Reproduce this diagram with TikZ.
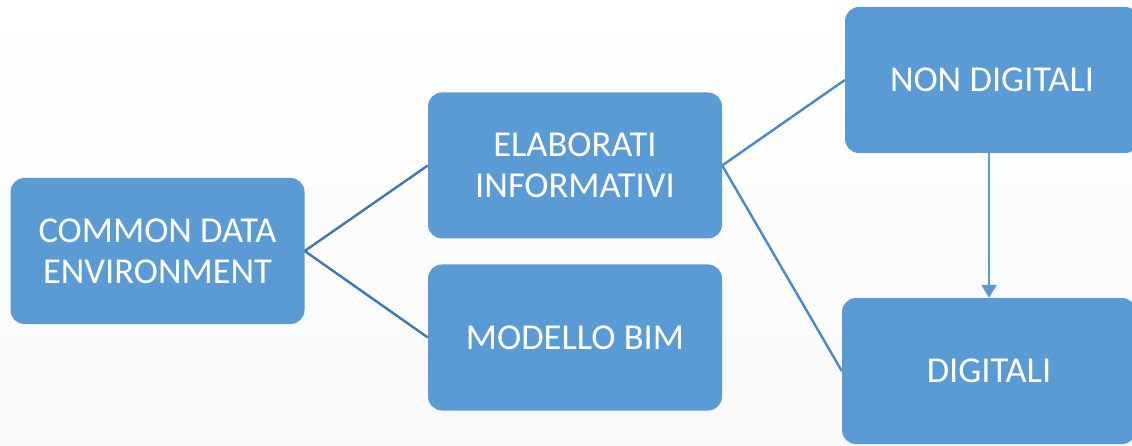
\documentclass[tikz,border=0pt]{standalone}
\usepackage{fontspec}
\setmainfont{Carlito}
\usetikzlibrary{arrows.meta}
\definecolor{boxblue}{HTML}{5B9BD5}
\definecolor{linedark}{HTML}{3F78B0}
\definecolor{linemid}{HTML}{4A88C8}
\definecolor{bgbottom}{HTML}{F9F9F9}
\tikzset{
  box/.style={fill=boxblue, rounded corners=14pt, text=white, align=center,
    minimum width=294pt, minimum height=146pt, inner sep=0pt,
    font=\fontsize{36.5}{41}\selectfont},
  link/.style={line width=2.4pt}
}
\begin{document}
\begin{tikzpicture}[x=1pt, y=-1pt]
  \useasboundingbox (0,0) rectangle (1132,446);
  \shade[top color=white, bottom color=bgbottom] (0,0) rectangle (1132,446);
  \node[box, name=cde] at (157.5,251) {COMMON DATA\\ENVIRONMENT};
  \node[box, name=elab] at (575,165.5) {ELABORATI\\INFORMATIVI};
  \node[box, name=bim] at (575,337.5) {MODELLO BIM};
  \node[box, name=nondig] at (992,80) {NON DIGITALI};
  \node[box, name=dig] at (989,371) {DIGITALI};
  \draw[link, linedark] (cde.east) -- (elab.west);
  \draw[link, linedark] (cde.east) -- (bim.west);
  \draw[link, linemid] (elab.east) -- (nondig.west);
  \draw[link, linemid] (elab.east) -- (dig.west);
  \draw[link, boxblue, -{Triangle[width=15pt,length=13pt]}] (nondig.south -| dig.north) -- (dig.north);
\end{tikzpicture}
\end{document}
